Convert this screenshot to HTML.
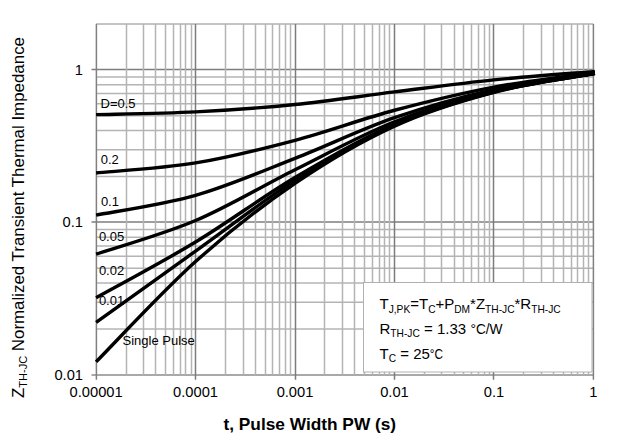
<!DOCTYPE html>
<html><head><meta charset="utf-8"><style>
html,body{margin:0;padding:0;background:#fff;width:618px;height:440px;overflow:hidden}
svg{display:block}
text{font-family:"Liberation Sans",sans-serif}
</style></head><body>
<svg width="618" height="440" viewBox="0 0 618 440">
<line x1="96.10" y1="328.99" x2="593.40" y2="328.99" stroke="#b4b4b4" stroke-width="1.5"/>
<line x1="96.10" y1="302.14" x2="593.40" y2="302.14" stroke="#b4b4b4" stroke-width="1.5"/>
<line x1="96.10" y1="283.09" x2="593.40" y2="283.09" stroke="#b4b4b4" stroke-width="1.5"/>
<line x1="96.10" y1="268.31" x2="593.40" y2="268.31" stroke="#b4b4b4" stroke-width="1.5"/>
<line x1="96.10" y1="256.23" x2="593.40" y2="256.23" stroke="#b4b4b4" stroke-width="1.5"/>
<line x1="96.10" y1="246.02" x2="593.40" y2="246.02" stroke="#b4b4b4" stroke-width="1.5"/>
<line x1="96.10" y1="237.18" x2="593.40" y2="237.18" stroke="#b4b4b4" stroke-width="1.5"/>
<line x1="96.10" y1="229.38" x2="593.40" y2="229.38" stroke="#b4b4b4" stroke-width="1.5"/>
<line x1="96.10" y1="176.49" x2="593.40" y2="176.49" stroke="#b4b4b4" stroke-width="1.5"/>
<line x1="96.10" y1="149.64" x2="593.40" y2="149.64" stroke="#b4b4b4" stroke-width="1.5"/>
<line x1="96.10" y1="130.59" x2="593.40" y2="130.59" stroke="#b4b4b4" stroke-width="1.5"/>
<line x1="96.10" y1="115.81" x2="593.40" y2="115.81" stroke="#b4b4b4" stroke-width="1.5"/>
<line x1="96.10" y1="103.73" x2="593.40" y2="103.73" stroke="#b4b4b4" stroke-width="1.5"/>
<line x1="96.10" y1="93.52" x2="593.40" y2="93.52" stroke="#b4b4b4" stroke-width="1.5"/>
<line x1="96.10" y1="84.68" x2="593.40" y2="84.68" stroke="#b4b4b4" stroke-width="1.5"/>
<line x1="96.10" y1="76.88" x2="593.40" y2="76.88" stroke="#b4b4b4" stroke-width="1.5"/>
<line x1="96.10" y1="23.90" x2="593.40" y2="23.90" stroke="#c4c4c4" stroke-width="2.0"/>
<line x1="91.50" y1="69.50" x2="593.40" y2="69.50" stroke="#7e7e7e" stroke-width="1.5"/>
<line x1="91.50" y1="222.00" x2="593.40" y2="222.00" stroke="#7e7e7e" stroke-width="1.5"/>
<line x1="91.50" y1="374.90" x2="593.40" y2="374.90" stroke="#8c8c8c" stroke-width="1.5"/>
<line x1="126.50" y1="23.90" x2="126.50" y2="374.90" stroke="#b4b4b4" stroke-width="1.5"/>
<line x1="143.50" y1="23.90" x2="143.50" y2="374.90" stroke="#b4b4b4" stroke-width="1.5"/>
<line x1="155.50" y1="23.90" x2="155.50" y2="374.90" stroke="#b4b4b4" stroke-width="1.5"/>
<line x1="165.50" y1="23.90" x2="165.50" y2="374.90" stroke="#b4b4b4" stroke-width="1.5"/>
<line x1="173.50" y1="23.90" x2="173.50" y2="374.90" stroke="#b4b4b4" stroke-width="1.5"/>
<line x1="180.50" y1="23.90" x2="180.50" y2="374.90" stroke="#b4b4b4" stroke-width="1.5"/>
<line x1="185.50" y1="23.90" x2="185.50" y2="374.90" stroke="#b4b4b4" stroke-width="1.5"/>
<line x1="191.50" y1="23.90" x2="191.50" y2="374.90" stroke="#b4b4b4" stroke-width="1.5"/>
<line x1="225.50" y1="23.90" x2="225.50" y2="374.90" stroke="#b4b4b4" stroke-width="1.5"/>
<line x1="243.50" y1="23.90" x2="243.50" y2="374.90" stroke="#b4b4b4" stroke-width="1.5"/>
<line x1="255.50" y1="23.90" x2="255.50" y2="374.90" stroke="#b4b4b4" stroke-width="1.5"/>
<line x1="265.50" y1="23.90" x2="265.50" y2="374.90" stroke="#b4b4b4" stroke-width="1.5"/>
<line x1="272.50" y1="23.90" x2="272.50" y2="374.90" stroke="#b4b4b4" stroke-width="1.5"/>
<line x1="279.50" y1="23.90" x2="279.50" y2="374.90" stroke="#b4b4b4" stroke-width="1.5"/>
<line x1="285.50" y1="23.90" x2="285.50" y2="374.90" stroke="#b4b4b4" stroke-width="1.5"/>
<line x1="290.50" y1="23.90" x2="290.50" y2="374.90" stroke="#b4b4b4" stroke-width="1.5"/>
<line x1="324.50" y1="23.90" x2="324.50" y2="374.90" stroke="#b4b4b4" stroke-width="1.5"/>
<line x1="342.50" y1="23.90" x2="342.50" y2="374.90" stroke="#b4b4b4" stroke-width="1.5"/>
<line x1="354.50" y1="23.90" x2="354.50" y2="374.90" stroke="#b4b4b4" stroke-width="1.5"/>
<line x1="364.50" y1="23.90" x2="364.50" y2="374.90" stroke="#b4b4b4" stroke-width="1.5"/>
<line x1="372.50" y1="23.90" x2="372.50" y2="374.90" stroke="#b4b4b4" stroke-width="1.5"/>
<line x1="379.50" y1="23.90" x2="379.50" y2="374.90" stroke="#b4b4b4" stroke-width="1.5"/>
<line x1="384.50" y1="23.90" x2="384.50" y2="374.90" stroke="#b4b4b4" stroke-width="1.5"/>
<line x1="389.50" y1="23.90" x2="389.50" y2="374.90" stroke="#b4b4b4" stroke-width="1.5"/>
<line x1="424.50" y1="23.90" x2="424.50" y2="374.90" stroke="#b4b4b4" stroke-width="1.5"/>
<line x1="441.50" y1="23.90" x2="441.50" y2="374.90" stroke="#b4b4b4" stroke-width="1.5"/>
<line x1="454.50" y1="23.90" x2="454.50" y2="374.90" stroke="#b4b4b4" stroke-width="1.5"/>
<line x1="463.50" y1="23.90" x2="463.50" y2="374.90" stroke="#b4b4b4" stroke-width="1.5"/>
<line x1="471.50" y1="23.90" x2="471.50" y2="374.90" stroke="#b4b4b4" stroke-width="1.5"/>
<line x1="478.50" y1="23.90" x2="478.50" y2="374.90" stroke="#b4b4b4" stroke-width="1.5"/>
<line x1="484.50" y1="23.90" x2="484.50" y2="374.90" stroke="#b4b4b4" stroke-width="1.5"/>
<line x1="489.50" y1="23.90" x2="489.50" y2="374.90" stroke="#b4b4b4" stroke-width="1.5"/>
<line x1="523.50" y1="23.90" x2="523.50" y2="374.90" stroke="#b4b4b4" stroke-width="1.5"/>
<line x1="541.50" y1="23.90" x2="541.50" y2="374.90" stroke="#b4b4b4" stroke-width="1.5"/>
<line x1="553.50" y1="23.90" x2="553.50" y2="374.90" stroke="#b4b4b4" stroke-width="1.5"/>
<line x1="563.50" y1="23.90" x2="563.50" y2="374.90" stroke="#b4b4b4" stroke-width="1.5"/>
<line x1="571.50" y1="23.90" x2="571.50" y2="374.90" stroke="#b4b4b4" stroke-width="1.5"/>
<line x1="577.50" y1="23.90" x2="577.50" y2="374.90" stroke="#b4b4b4" stroke-width="1.5"/>
<line x1="583.50" y1="23.90" x2="583.50" y2="374.90" stroke="#b4b4b4" stroke-width="1.5"/>
<line x1="588.50" y1="23.90" x2="588.50" y2="374.90" stroke="#b4b4b4" stroke-width="1.5"/>
<line x1="195.50" y1="23.90" x2="195.50" y2="379.70" stroke="#7c7c7c" stroke-width="1.5"/>
<line x1="295.50" y1="23.90" x2="295.50" y2="379.70" stroke="#7c7c7c" stroke-width="1.5"/>
<line x1="394.50" y1="23.90" x2="394.50" y2="379.70" stroke="#7c7c7c" stroke-width="1.5"/>
<line x1="493.50" y1="23.90" x2="493.50" y2="379.70" stroke="#7c7c7c" stroke-width="1.5"/>
<line x1="96.40" y1="23.90" x2="96.40" y2="379.70" stroke="#808080" stroke-width="1.5"/>
<line x1="593.40" y1="23.90" x2="593.40" y2="379.70" stroke="#808080" stroke-width="1.5"/>
<path d="M96.10,114.61 C112.68,114.15 162.41,113.55 195.56,111.86 C228.71,110.17 261.87,107.81 295.02,104.48 C328.17,101.16 361.33,96.02 394.48,91.93 C427.63,87.83 460.79,83.31 493.94,79.92 C527.09,76.53 576.82,72.97 593.40,71.59 l1.49,-0.13" fill="none" stroke="#000" stroke-width="3.4" stroke-linejoin="round"/>
<path d="M96.10,172.96 C112.68,171.29 162.41,168.37 195.56,162.92 C228.71,157.48 261.87,149.06 295.02,140.28 C328.17,131.51 361.33,119.13 394.48,110.26 C427.63,101.39 460.79,93.29 493.94,87.05 C527.09,80.82 576.82,75.23 593.40,72.87 l1.48,-0.21" fill="none" stroke="#000" stroke-width="3.4" stroke-linejoin="round"/>
<path d="M96.10,215.16 C112.68,211.86 162.41,204.83 195.56,195.37 C228.71,185.90 261.87,171.31 295.02,158.37 C328.17,145.43 361.33,129.17 394.48,117.71 C427.63,106.25 460.79,97.02 493.94,89.62 C527.09,82.21 576.82,76.02 593.40,73.30 l1.48,-0.24" fill="none" stroke="#000" stroke-width="3.4" stroke-linejoin="round"/>
<path d="M96.10,254.21 C112.68,248.59 162.41,234.62 195.56,220.53 C228.71,206.44 261.87,186.14 295.02,169.68 C328.17,153.22 361.33,134.89 394.48,121.77 C427.63,108.64 460.79,98.98 493.94,90.93 C527.09,82.89 576.82,76.42 593.40,73.52 l1.48,-0.26" fill="none" stroke="#000" stroke-width="3.4" stroke-linejoin="round"/>
<path d="M96.10,297.77 C112.68,288.48 162.41,262.07 195.56,242.03 C228.71,221.99 261.87,197.15 295.02,177.53 C328.17,157.91 361.33,138.63 394.48,124.33 C427.63,110.03 460.79,100.19 493.94,91.74 C527.09,83.29 576.82,76.67 593.40,73.65 l1.48,-0.27" fill="none" stroke="#000" stroke-width="3.4" stroke-linejoin="round"/>
<path d="M96.10,322.36 C112.68,310.48 162.41,274.76 195.56,251.10 C228.71,227.43 261.87,201.35 295.02,180.37 C328.17,159.39 361.33,139.93 394.48,125.21 C427.63,110.48 460.79,100.59 493.94,92.01 C527.09,83.42 576.82,76.75 593.40,73.70 l1.48,-0.27" fill="none" stroke="#000" stroke-width="3.4" stroke-linejoin="round"/>
<path d="M96.10,361.90 C112.68,345.18 162.41,291.36 195.56,261.60 C228.71,231.84 261.87,205.91 295.02,183.33 C328.17,160.75 361.33,141.27 394.48,126.10 C427.63,110.92 460.79,101.01 493.94,92.28 C527.09,83.55 576.82,76.83 593.40,73.74 l1.47,-0.27" fill="none" stroke="#000" stroke-width="3.4" stroke-linejoin="round"/>
<rect x="363.5" y="282.5" width="228.5" height="89.5" fill="#fff" stroke="#b0b0b0" stroke-width="1"/>
<g font-family="Liberation Sans, sans-serif" fill="#000">
<text x="83" y="74.8" font-size="14.7" text-anchor="end" >1</text>
<text x="83" y="227.3" font-size="14.7" text-anchor="end" >0.1</text>
<text x="83" y="379.8" font-size="14.7" text-anchor="end" >0.01</text>
<text x="96.10" y="396.9" font-size="14.7" text-anchor="middle" >0.00001</text>
<text x="195.56" y="396.9" font-size="14.7" text-anchor="middle" >0.0001</text>
<text x="295.02" y="396.9" font-size="14.7" text-anchor="middle" >0.001</text>
<text x="394.48" y="396.9" font-size="14.7" text-anchor="middle" >0.01</text>
<text x="493.94" y="396.9" font-size="14.7" text-anchor="middle" >0.1</text>
<text x="593.40" y="396.9" font-size="14.7" text-anchor="middle" >1</text>
<text x="100.5" y="107.8" font-size="13" text-anchor="start" >D=0.5</text>
<text x="100.7" y="164.3" font-size="13" text-anchor="start" >0.2</text>
<text x="100.9" y="205.9" font-size="13" text-anchor="start" >0.1</text>
<text x="98.9" y="240.9" font-size="13" text-anchor="start" >0.05</text>
<text x="98.9" y="275.3" font-size="13" text-anchor="start" >0.02</text>
<text x="98.9" y="305.3" font-size="13" text-anchor="start" >0.01</text>
<text x="122.5" y="345.4" font-size="13" text-anchor="start" >Single Pulse</text>
<text x="309.8" y="429.7" font-size="17.3" text-anchor="middle" font-weight="bold">t, Pulse Width PW (s)</text>
<text transform="translate(23.6,398) rotate(-90)" font-size="16.9">Z<tspan font-size="11" dy="3.5">TH-JC</tspan><tspan dy="-3.5"> Normalized Transient Thermal Impedance</tspan></text>
<text x="379.5" y="309.1" font-size="15">T<tspan font-size="10.2" dy="3.5">J,PK</tspan><tspan dy="-3.5">=T</tspan><tspan font-size="10.2" dy="3.5">C</tspan><tspan dy="-3.5">+P</tspan><tspan font-size="10.2" dy="3.5">DM</tspan><tspan dy="-3.5">*Z</tspan><tspan font-size="10.2" dy="3.5">TH-JC</tspan><tspan dy="-3.5">*R</tspan><tspan font-size="10.2" dy="3.5">TH-JC</tspan></text>
<text x="379.5" y="333.5" font-size="15">R<tspan font-size="10.2" dy="3.5">TH-JC</tspan><tspan dy="-3.5"> = 1.33 </tspan></text>
<text x="470.4" y="333.5" font-size="15" textLength="32.2" lengthAdjust="spacingAndGlyphs">°C/W</text>
<text x="379.5" y="358.6" font-size="15">T<tspan font-size="10.2" dy="3.5">C</tspan><tspan dy="-3.5"> = 25</tspan></text>
<text x="429.8" y="358.6" font-size="15" textLength="13.2" lengthAdjust="spacingAndGlyphs">°C</text>
</g>
</svg></body></html>
